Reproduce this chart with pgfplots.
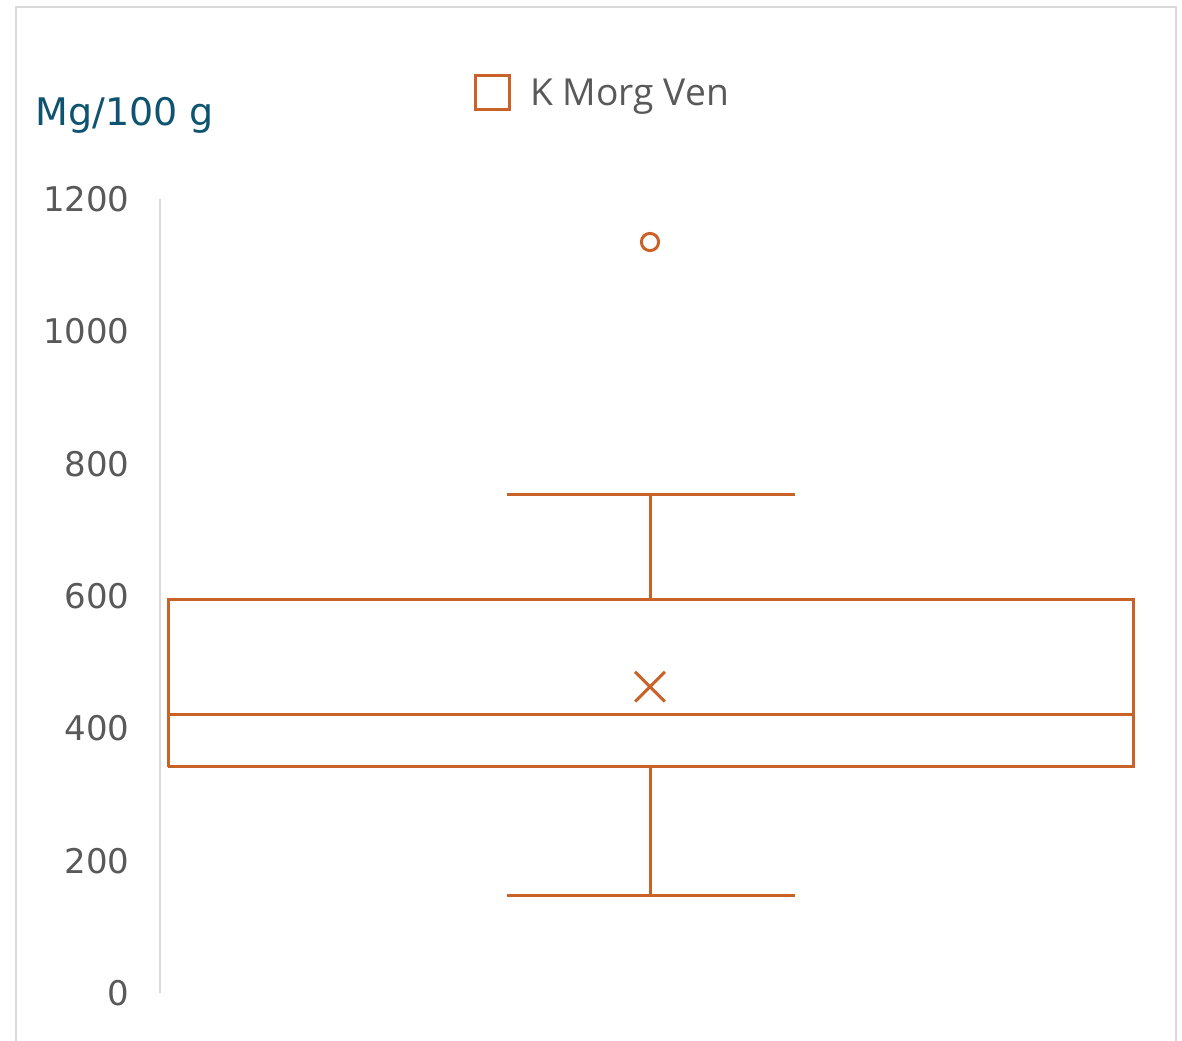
\documentclass[border=0pt]{standalone}
\usepackage{fontspec}
\setmainfont{DejaVu Sans}
\newfontfamily\legfont{Open Sans}
\usepackage{pgfplots}
\pgfplotsset{compat=1.18}
\definecolor{boxc}{RGB}{200,98,40}
\definecolor{titlec}{RGB}{14,84,112}
\definecolor{tickc}{RGB}{89,89,89}
\definecolor{framec}{RGB}{217,217,217}
\begin{document}
\begin{tikzpicture}
\useasboundingbox (0,0) rectangle (591pt,520pt);
\draw[framec, line width=1.3pt] (8pt,-5pt) -- (8pt,516.5pt) -- (588pt,516.5pt) -- (588pt,-5pt);
\begin{axis}[
  at={(80pt,23.5pt)}, anchor=origin,
  scale only axis, width=490pt, height=397pt,
  xmin=160, xmax=1140, ymin=0, ymax=1200,
  axis x line=none, axis y line=left,
  axis line style={-, framec, line width=1pt},
  ytick={0,200,400,600,800,1000,1200},
  major tick length=0pt,
  /pgf/number format/assume math mode=true,
  /pgf/number format/set thousands separator={},
  yticklabel style={font=\fontsize{17}{17}\selectfont, text=tickc, inner sep=0pt, anchor=east, xshift=-15pt},
  clip=false,
]
\addplot[boxc, line width=1.5pt] coordinates {(168,341.6) (1133,341.6) (1133,594) (168,594) (168,341.6)};
\addplot[boxc, line width=1.5pt] coordinates {(168,421) (1133,421)};
\addplot[boxc, line width=1.5pt] coordinates {(650,594) (650,754)};
\addplot[boxc, line width=1.5pt] coordinates {(507,754) (795,754)};
\addplot[boxc, line width=1.5pt] coordinates {(650,341.6) (650,148)};
\addplot[boxc, line width=1.5pt] coordinates {(507,148) (795,148)};
\addplot[boxc, only marks, mark=x, mark size=10.5pt, line width=1.5pt] coordinates {(650,463)};
\addplot[boxc, only marks, mark=o, mark size=4.3pt, line width=1.5pt] coordinates {(650,1135)};
\end{axis}
\node[anchor=base west, inner sep=0pt, text=titlec, font=\fontsize{19}{19}\selectfont] at (17.5pt,457pt) {Mg/100 g};
\draw[boxc, line width=1.5pt] (237.75pt,465.25pt) rectangle (254.75pt,482.25pt);
\node[anchor=base west, inner sep=0pt, text=tickc, font=\legfont\fontsize{18.6}{18.6}\selectfont] at (265pt,467pt) {K Morg Ven};
\end{tikzpicture}
\end{document}
